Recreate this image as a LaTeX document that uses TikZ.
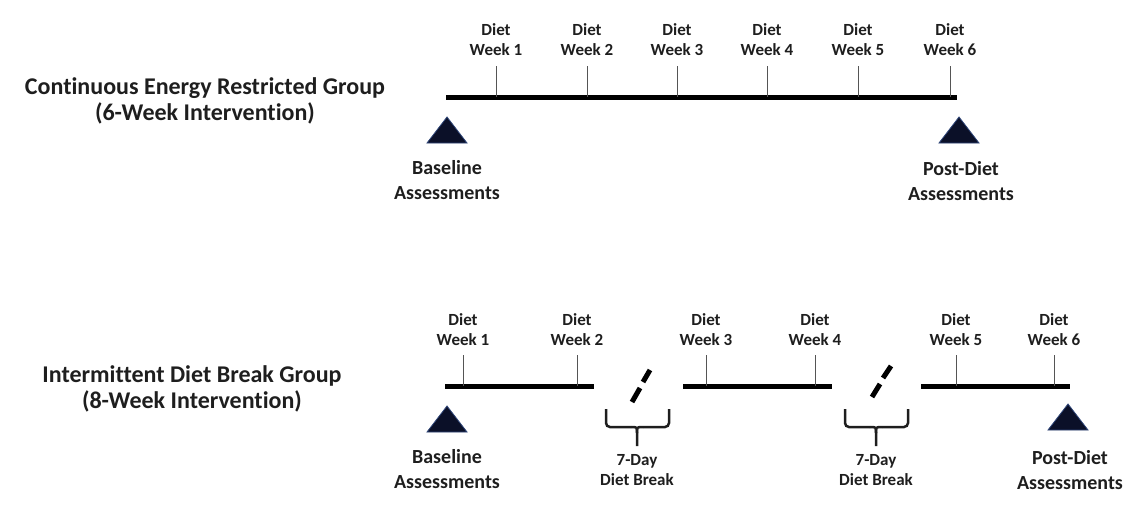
\documentclass[tikz,border=0pt]{standalone}
\usepackage{fontspec}
\setmainfont{Carlito}[RawFeature={-liga;-clig}]
\definecolor{txt}{HTML}{1E1E1E}
\definecolor{trifill}{HTML}{0B1028}
\definecolor{triedge}{HTML}{2E4578}
\definecolor{tickc}{HTML}{555555}
\begin{document}
\begin{tikzpicture}[x=1pt,y=-1pt,
  grp/.style={font=\fontsize{24}{26}\selectfont\bfseries, align=center, text=txt, inner sep=0},
  wk/.style={font=\fontsize{17}{20}\selectfont\bfseries, align=center, text=txt, inner sep=0},
  asm/.style={font=\fontsize{20}{25}\selectfont\bfseries, align=center, text=txt, inner sep=0},
  brk/.style={font=\fontsize{17}{20}\selectfont\bfseries, align=center, text=txt, inner sep=0},
  timeline/.style={line width=5pt, draw=black},
  tickline/.style={line width=1pt, draw=tickc},
  tri/.style={fill=trifill, draw=triedge, line width=0.8pt, line join=miter},
  breakmark/.style={line width=5pt, draw=black},
  bracepath/.style={line width=2.5pt, draw=txt, rounded corners=4pt}]

\useasboundingbox (0,0) rectangle (1142,525);

% ---------- Top group ----------
\node[grp] (g1) at (205,101) {Continuous Energy Restricted Group\\(6-Week Intervention)};
\coordinate (a0) at (446,97);
\coordinate (a1) at (957,97);
\draw[timeline] (a0) -- (a1);
\foreach \x/\n in {496/1,587/2,677/3,767/4,858/5,950/6}{
  \node[wk] (tw\n) at (\x,40) {Diet\\Week \n};
  \coordinate (tt\n) at (\x,66);
  \coordinate (tb\n) at (\x,97);
  \draw[tickline] (tt\n) -- (tb\n);
}
\path[tri] (427,143) -- (447,117) -- (467,143) -- cycle;
\path[tri] (939,143) -- (959,117) -- (979,143) -- cycle;
\node[asm] (b1) at (447,180) {Baseline\\Assessments};
\node[asm] (p1) at (961,181) {Post-Diet\\Assessments};

% ---------- Bottom group ----------
\node[grp] (g2) at (192,389) {Intermittent Diet Break Group\\(8-Week Intervention)};
\coordinate (s1a) at (445,386); \coordinate (s1b) at (594,386);
\coordinate (s2a) at (683,386); \coordinate (s2b) at (832,386);
\coordinate (s3a) at (921,386); \coordinate (s3b) at (1070,386);
\draw[timeline] (s1a) -- (s1b);
\draw[timeline] (s2a) -- (s2b);
\draw[timeline] (s3a) -- (s3b);
\foreach \x/\n in {463/1,577/2,706/3,815/4,956/5,1054/6}{
  \node[wk] (bw\n) at (\x,330) {Diet\\Week \n};
  \coordinate (bt\n) at (\x,355);
  \coordinate (bb\n) at (\x,386);
  \draw[tickline] (bt\n) -- (bb\n);
}
% break marks
\draw[breakmark] (632,402) -- (640,388);
\draw[breakmark] (643,382) -- (650,370);
\draw[breakmark] (872,397) -- (880,384);
\draw[breakmark] (883,378) -- (891,366);
% braces
\foreach \c/\l/\r in {637/606/669, 876/845/908}{
  \draw[bracepath] (\l,409) -- (\l,427) -- (\c-6,427);
  \draw[bracepath] (\r,409) -- (\r,427) -- (\c+6,427);
  \draw[line width=2.5pt, draw=txt] (\c-6,427) .. controls (\c,427) .. (\c,433) -- (\c,446);
  \draw[line width=2.5pt, draw=txt] (\c+6,427) .. controls (\c,427) .. (\c,433);
}
\node[brk] (k1) at (637,470) {7-Day\\Diet Break};
\node[brk] (k2) at (876,470) {7-Day\\Diet Break};
% triangles
\path[tri] (427,432) -- (447,406) -- (467,432) -- cycle;
\path[tri] (1048,430) -- (1068,404) -- (1088,430) -- cycle;
\node[asm] (b2) at (447,469) {Baseline\\Assessments};
\node[asm] (p2) at (1070,470) {Post-Diet\\Assessments};
\end{tikzpicture}
\end{document}
